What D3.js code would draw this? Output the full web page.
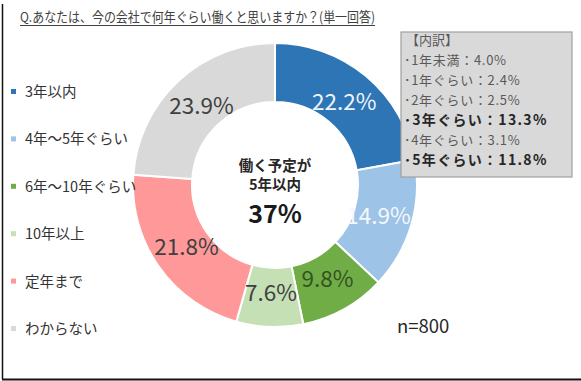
<!DOCTYPE html>
<html>
<head>
<meta charset="utf-8">
<script src="https://cdn.jsdelivr.net/npm/d3@7"></script>
<style>
  html, body { margin: 0; padding: 0; background: #fff; }
  svg { display: block; font-family: "Noto Sans CJK JP", "Noto Sans", sans-serif; }
</style>
</head>
<body>
<div id="chart"></div>
<script>
const categories = ["3年以内", "4年～5年ぐらい", "6年～10年ぐらい", "10年以上", "定年まで", "わからない"];
const values = [22.2, 14.9, 9.8, 7.6, 21.8, 23.9];
const colors = ["#2e75b6", "#9dc3e6", "#70ad47", "#c5e0b4", "#ff9999", "#d9d9d9"];
const labelColors = ["#eef4fb", "#f4f8fc", "#35531f", "#404040", "#404040", "#404040"];

const breakdownTitle = "【内訳】";
const breakdownItems = ["1年未満", "1年ぐらい", "2年ぐらい", "3年ぐらい", "4年ぐらい", "5年ぐらい"];
const breakdownValues = [4.0, 2.4, 2.5, 13.3, 3.1, 11.8];
const breakdownBold = [false, false, false, true, false, true];

const title = "Q.あなたは、今の会社で何年ぐらい働くと思いますか？(単一回答)";
const centerLines = ["働く予定が", "5年以内"];
const centerValue = "37%";
const sampleSize = "n=800";

const width = 581, height = 381;
const cx = 275, cy = 185, outerR = 142, innerR = 83, labelR = 108;

const svg = d3.select("#chart").append("svg")
  .attr("width", width)
  .attr("height", height);

// frame (left / bottom shadow)
svg.append("line").attr("x1", 2.5).attr("y1", 4).attr("x2", 2.5).attr("y2", 379)
  .attr("stroke", "#111").attr("stroke-width", 1.5);
svg.append("line").attr("x1", 2).attr("y1", 379.5).attr("x2", 581).attr("y2", 379.5)
  .attr("stroke", "#111").attr("stroke-width", 2);

// title
svg.append("text")
  .attr("x", 20).attr("y", 22)
  .attr("font-size", 13.5)
  .attr("fill", "#404040")
  .attr("textLength", 355)
  .attr("lengthAdjust", "spacingAndGlyphs")
  .text(title);
svg.append("line").attr("x1", 20).attr("x2", 375)
  .attr("y1", 25.5).attr("y2", 25.5)
  .attr("stroke", "#404040").attr("stroke-width", 1);

// donut
const pie = d3.pie().sort(null).value(d => d)(values);
const arc = d3.arc().innerRadius(innerR).outerRadius(outerR);
const labelArc = d3.arc().innerRadius(labelR).outerRadius(labelR);

const g = svg.append("g").attr("transform", `translate(${cx},${cy})`);

g.selectAll("path")
  .data(pie)
  .join("path")
  .attr("d", arc)
  .attr("fill", (d, i) => colors[i])
  .attr("stroke", "#fff")
  .attr("stroke-width", 2);

g.selectAll("text.pct")
  .data(pie)
  .join("text")
  .attr("class", "pct")
  .attr("transform", d => `translate(${labelArc.centroid(d)})`)
  .attr("text-anchor", "middle")
  .attr("dy", "0.36em")
  .attr("font-size", 22.5)
  .attr("fill", (d, i) => labelColors[i])
  .text(d => d.data.toFixed(1) + "%");

// center text
g.selectAll("text.center")
  .data(centerLines)
  .join("text")
  .attr("class", "center")
  .attr("text-anchor", "middle")
  .attr("y", (d, i) => -14 + i * 19)
  .attr("font-size", 14.5)
  .attr("font-weight", "bold")
  .attr("fill", "#262626")
  .text(d => d);
g.append("text")
  .attr("text-anchor", "middle")
  .attr("y", 38)
  .attr("font-size", 25)
  .attr("font-weight", "bold")
  .attr("fill", "#1a1a1a")
  .text(centerValue);

// legend
const legendY = d3.scalePoint().domain(categories).range([92, 329]);
const legend = svg.append("g").selectAll("g")
  .data(categories)
  .join("g")
  .attr("transform", d => `translate(11,${legendY(d)})`);
legend.append("rect")
  .attr("x", 0).attr("y", -3).attr("width", 5).attr("height", 5)
  .attr("fill", (d, i) => colors[i]);
legend.append("text")
  .attr("x", 14).attr("dy", "0.35em")
  .attr("font-size", 14.5)
  .attr("fill", "#333")
  .text(d => d);

// breakdown box
const box = svg.append("g").attr("transform", "translate(401,32)");
box.append("rect")
  .attr("width", 171).attr("height", 145)
  .attr("fill", "#d9d9d9")
  .attr("stroke", "#a0a0a0").attr("stroke-width", 1.2);
box.append("text")
  .attr("x", 5).attr("y", 13)
  .attr("font-size", 13).attr("fill", "#595959")
  .text(breakdownTitle);
const rowY = d3.scaleLinear().domain([0, breakdownItems.length - 1]).range([33, 133]);
box.selectAll("text.row")
  .data(breakdownItems)
  .join("text")
  .attr("class", "row")
  .attr("x", 3)
  .attr("y", (d, i) => rowY(i))
  .attr("font-size", (d, i) => breakdownBold[i] ? 14 : 13)
  .attr("letter-spacing", (d, i) => breakdownBold[i] ? 1.3 : 0.7)
  .attr("font-weight", (d, i) => breakdownBold[i] ? "bold" : "normal")
  .attr("fill", (d, i) => breakdownBold[i] ? "#262626" : "#595959")
  .text((d, i) => "･" + d + "：" + breakdownValues[i].toFixed(1) + "%");

// n
svg.append("text")
  .attr("x", 397).attr("y", 333)
  .attr("font-size", 18.5)
  .attr("fill", "#262626")
  .text(sampleSize);
</script>
</body>
</html>
